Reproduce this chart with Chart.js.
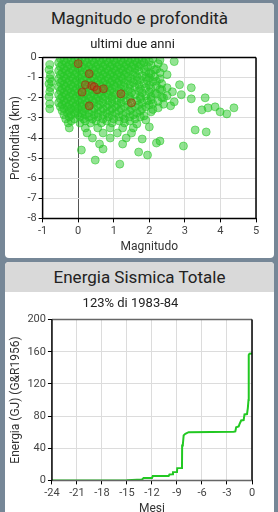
<!DOCTYPE html>
<html><head><meta charset="utf-8">
<script src="https://cdn.jsdelivr.net/npm/chart.js@4"></script>
<style>
html,body{margin:0;padding:0;background:#768797;width:278px;height:512px;overflow:hidden;font-family:Roboto,sans-serif;}
.card{position:absolute;left:5px;width:269px;background:#fff;border-radius:4px;overflow:hidden;}
.hdr{height:30px;line-height:30px;background:#d9d9d9;text-align:center;font-size:17px;color:#222;}
.box{position:relative;width:269px;}
</style></head>
<body>
<div class="card" style="top:3px;height:255px"><div class="hdr">Magnitudo e profondità</div><div class="box" style="height:223px"><canvas id="c1"></canvas></div></div>
<div class="card" style="top:262px;height:270px"><div class="hdr">Energia Sismica Totale</div><div class="box" style="height:224px"><canvas id="c2"></canvas></div></div>
<script>
// ---- dati: magnitudo e profondità (ultimi due anni) ----
const eventiVerdi = [
 [-0.5,-0.05],[-0.3,-0.05],[-0.1,-0.05],[0.1,-0.05],[0.3,-0.05],[0.5,-0.05],[0.7,-0.05],[0.9,-0.05],[1.1,-0.05],[1.3,-0.05],[1.5,-0.05],[1.7,-0.05],[1.9,-0.05],[2.1,-0.05],
 [-0.4,-0.15],[-0.2,-0.15],[0.0,-0.15],[0.2,-0.15],[0.4,-0.15],[0.6,-0.15],[0.8,-0.15],[1.0,-0.15],[1.2,-0.15],[1.4,-0.15],[1.6,-0.15],[1.8,-0.15],[2.3,-0.12],
 [-0.55,-0.25],[-0.35,-0.25],[-0.15,-0.25],[0.05,-0.25],[0.25,-0.25],[0.45,-0.25],[0.65,-0.25],[0.85,-0.25],[1.05,-0.25],[1.25,-0.25],[1.45,-0.25],[1.65,-0.25],[1.85,-0.25],[2.0,-0.2],[2.25,-0.3],[2.7,-0.2],
 [-0.45,-0.35],[-0.25,-0.35],[-0.05,-0.35],[0.15,-0.35],[0.35,-0.35],[0.55,-0.35],[0.75,-0.35],[0.95,-0.35],[1.15,-0.35],[1.35,-0.35],[1.55,-0.35],[1.75,-0.35],[2.05,-0.38],
 [-0.5,-0.45],[-0.3,-0.45],[-0.1,-0.45],[0.1,-0.45],[0.3,-0.45],[0.5,-0.45],[0.7,-0.45],[0.9,-0.45],[1.1,-0.45],[1.3,-0.45],[1.5,-0.45],[1.7,-0.45],[1.95,-0.45],[2.4,-0.5],
 [-0.4,-0.55],[-0.2,-0.55],[0.0,-0.55],[0.2,-0.55],[0.4,-0.55],[0.6,-0.55],[0.8,-0.55],[1.0,-0.55],[1.2,-0.55],[1.4,-0.55],[1.6,-0.55],[1.85,-0.55],[2.2,-0.58],
 [-0.55,-0.65],[-0.35,-0.65],[-0.15,-0.65],[0.05,-0.65],[0.25,-0.65],[0.45,-0.65],[0.65,-0.65],[0.85,-0.65],[1.05,-0.65],[1.25,-0.65],[1.45,-0.65],[1.7,-0.65],[1.9,-0.7],[2.15,-0.6],
 [-0.45,-0.75],[-0.25,-0.75],[-0.05,-0.75],[0.15,-0.75],[0.35,-0.75],[0.55,-0.75],[0.75,-0.75],[0.95,-0.75],[1.15,-0.75],[1.35,-0.75],[1.6,-0.75],[2.0,-0.78],[2.3,-0.75],
 [-0.5,-0.85],[-0.3,-0.85],[-0.1,-0.85],[0.1,-0.85],[0.3,-0.85],[0.5,-0.85],[0.7,-0.85],[0.9,-0.85],[1.1,-0.85],[1.3,-0.85],[1.55,-0.85],[1.8,-0.9],[2.05,-0.8],[2.5,-0.85],
 [-0.4,-0.95],[-0.2,-0.95],[0.0,-0.95],[0.2,-0.95],[0.4,-0.95],[0.6,-0.95],[0.8,-0.95],[1.0,-0.95],[1.2,-0.95],[1.4,-0.95],[1.65,-0.95],[1.9,-0.98],[2.15,-0.95],
 [-0.55,-1.05],[-0.35,-1.05],[-0.15,-1.05],[0.05,-1.05],[0.25,-1.05],[0.45,-1.05],[0.65,-1.05],[0.85,-1.05],[1.05,-1.05],[1.25,-1.05],[1.5,-1.05],[1.75,-1.1],[2.0,-1.0],[2.3,-1.05],
 [-0.45,-1.15],[-0.25,-1.15],[-0.05,-1.15],[0.15,-1.15],[0.35,-1.15],[0.55,-1.15],[0.75,-1.15],[0.95,-1.15],[1.15,-1.15],[1.4,-1.15],[1.65,-1.15],[1.95,-1.15],[2.2,-1.18],
 [-0.5,-1.25],[-0.3,-1.25],[-0.1,-1.25],[0.1,-1.25],[0.3,-1.25],[0.5,-1.25],[0.7,-1.25],[0.9,-1.25],[1.1,-1.25],[1.3,-1.25],[1.55,-1.25],[1.85,-1.3],[2.1,-1.2],[2.85,-1.35],
 [-0.4,-1.35],[-0.2,-1.35],[0.0,-1.35],[0.2,-1.35],[0.4,-1.35],[0.6,-1.35],[0.8,-1.35],[1.0,-1.35],[1.2,-1.35],[1.45,-1.35],[1.7,-1.35],[2.0,-1.38],[2.35,-1.3],
 [-0.55,-1.45],[-0.35,-1.45],[-0.15,-1.45],[0.05,-1.45],[0.25,-1.45],[0.45,-1.45],[0.65,-1.45],[0.85,-1.45],[1.05,-1.45],[1.3,-1.45],[1.6,-1.45],[1.9,-1.5],[2.2,-1.4],[2.5,-1.5],[3.18,-1.5],
 [-0.45,-1.55],[-0.25,-1.55],[-0.05,-1.55],[0.15,-1.55],[0.35,-1.55],[0.55,-1.55],[0.75,-1.55],[0.95,-1.55],[1.2,-1.55],[1.45,-1.55],[1.75,-1.55],[2.05,-1.55],[2.3,-1.58],
 [-0.5,-1.65],[-0.3,-1.65],[-0.1,-1.65],[0.1,-1.65],[0.3,-1.65],[0.5,-1.65],[0.7,-1.65],[0.9,-1.65],[1.15,-1.65],[1.4,-1.65],[1.7,-1.65],[2.0,-1.7],[2.35,-1.6],[2.65,-1.7],
 [-0.4,-1.75],[-0.2,-1.75],[0.0,-1.75],[0.2,-1.75],[0.4,-1.75],[0.6,-1.75],[0.8,-1.75],[1.0,-1.75],[1.25,-1.75],[1.5,-1.75],[1.8,-1.75],[2.15,-1.78],
 [-0.55,-1.85],[-0.35,-1.85],[-0.15,-1.85],[0.05,-1.85],[0.25,-1.85],[0.45,-1.85],[0.65,-1.85],[0.85,-1.85],[1.05,-1.85],[1.3,-1.85],[1.6,-1.85],[1.9,-1.9],[2.2,-1.8],[2.5,-1.9],[2.9,-1.85],
 [-0.45,-1.95],[-0.25,-1.95],[-0.05,-1.95],[0.15,-1.95],[0.35,-1.95],[0.55,-1.95],[0.75,-1.95],[0.95,-1.95],[1.2,-1.95],[1.45,-1.95],[1.75,-1.95],[2.05,-1.95],[2.35,-1.98],
 [-0.5,-2.05],[-0.3,-2.05],[-0.1,-2.05],[0.1,-2.05],[0.3,-2.05],[0.5,-2.05],[0.7,-2.05],[0.95,-2.05],[1.2,-2.05],[1.45,-2.05],[1.75,-2.05],[2.05,-2.1],[2.4,-2.0],[3.18,-2.05],[3.57,-2.0],
 [-0.4,-2.15],[-0.2,-2.15],[0.0,-2.15],[0.2,-2.15],[0.4,-2.15],[0.6,-2.15],[0.85,-2.15],[1.1,-2.15],[1.35,-2.15],[1.65,-2.15],[1.95,-2.15],[2.25,-2.18],
 [-0.55,-2.25],[-0.35,-2.25],[-0.15,-2.25],[0.05,-2.25],[0.25,-2.25],[0.45,-2.25],[0.7,-2.25],[0.95,-2.25],[1.2,-2.25],[1.5,-2.25],[1.8,-2.25],[2.1,-2.3],[2.7,-2.2],
 [-0.45,-2.35],[-0.25,-2.35],[-0.05,-2.35],[0.15,-2.35],[0.35,-2.35],[0.6,-2.35],[0.85,-2.35],[1.1,-2.35],[1.4,-2.35],[1.7,-2.35],[2.0,-2.35],[2.4,-2.32],
 [-0.5,-2.45],[-0.3,-2.45],[-0.1,-2.45],[0.1,-2.45],[0.3,-2.45],[0.55,-2.45],[0.8,-2.45],[1.05,-2.45],[1.3,-2.45],[1.6,-2.45],[1.9,-2.45],[2.25,-2.5],[2.6,-2.4],[3.65,-2.5],[3.85,-2.45],
 [-0.4,-2.55],[-0.2,-2.55],[0.0,-2.55],[0.2,-2.55],[0.45,-2.55],[0.7,-2.55],[0.95,-2.55],[1.2,-2.55],[1.5,-2.55],[1.8,-2.55],[2.1,-2.58],
 [-0.45,-2.65],[-0.25,-2.65],[-0.05,-2.65],[0.15,-2.65],[0.4,-2.65],[0.65,-2.65],[0.9,-2.65],[1.15,-2.65],[1.45,-2.65],[1.75,-2.65],[2.05,-2.7],[3.48,-2.6],[3.99,-2.7],[4.38,-2.5],
 [-0.3,-2.75],[-0.1,-2.75],[0.1,-2.75],[0.3,-2.75],[0.55,-2.75],[0.8,-2.75],[1.05,-2.75],[1.35,-2.75],[1.65,-2.75],
 [-0.4,-2.85],[-0.2,-2.85],[0.0,-2.85],[0.2,-2.85],[0.45,-2.85],[0.7,-2.85],[0.95,-2.85],[1.25,-2.85],[1.55,-2.85],[1.85,-2.9],[4.18,-2.8],
 [-0.25,-2.95],[0.05,-2.95],[0.3,-2.95],[0.55,-2.95],[0.85,-2.95],[1.15,-2.95],[1.45,-2.95],[1.75,-2.95],
 [-0.35,-3.05],[-0.1,-3.05],[0.15,-3.05],[0.4,-3.05],[0.7,-3.05],[1.0,-3.05],[1.3,-3.05],[1.6,-3.05],[1.9,-3.1],
 [-0.2,-3.15],[0.2,-3.15],[0.5,-3.15],[0.8,-3.15],[1.15,-3.15],[1.45,-3.15],
 [-0.28,-3.25],[0.05,-3.25],[0.35,-3.25],[0.65,-3.25],[0.95,-3.25],[1.3,-3.25],[1.65,-3.3],
 [-0.25,-3.5],[0.2,-3.5],[0.55,-3.5],[0.9,-3.5],[1.25,-3.5],[1.55,-3.5],[2.0,-3.45],
 [0.25,-3.75],[0.7,-3.75],[1.1,-3.75],[1.5,-3.75],[3.29,-3.6],[3.6,-3.7],
 [0.4,-4.0],[0.9,-4.0],[1.35,-4.0],[1.8,-4.05],
 [0.6,-4.3],[1.25,-4.3],[2.2,-4.25],
 [0.09,-4.6],[0.48,-5.1],[0.7,-4.55],[1.17,-5.3],[1.7,-4.7],[1.95,-4.85],[2.96,-4.4],[2.3,-4.15],
 [-0.8,-0.35],[-0.82,-0.6],[-0.78,-0.85],[-0.8,-1.05],[-0.75,-1.2],[-0.82,-1.3],[-0.78,-1.5],[-0.8,-1.7],[-0.82,-1.95],[-0.8,-2.3],[-0.8,-2.55]
];
const eventiRossi = [
 [0.0,-0.3],[0.31,-0.8],[0.2,-1.35],[0.38,-1.4],[0.45,-1.45],[0.53,-1.6],[0.11,-1.72],[0.31,-2.4],[0.71,-1.55],[1.2,-1.8],[1.5,-2.25]
];
const ticksMagnitudo = [-1,0,1,2,3,4,5];
const ticksProfondita = [0,-1,-2,-3,-4,-5,-6,-7,-8];

// ---- dati: energia sismica cumulata (mesi, GJ) ----
const mesi =    [-24,-15,-13.2,-13.0,-12.0,-11.9,-10.0,-9.9,-9.5,-9.48,-9.0,-8.97,-8.4,-8.38,-8.3,-8.2,-8.0,-7.6,-2.2,-2.0,-1.9,-1.6,-1.5,-1.3,-1.0,-0.9,-0.6,-0.5,-0.42,-0.39,-0.3,0];
const energia = [0,  0.3, 1,   2.9,  3,    5.4,  5.5,  7.4, 7.5, 10.3, 10.5, 15.3,15.5, 43.5, 44,  56,  58,  60,  60.5,61,  66,  67,  70,  74.5,75,  82,  82.5,90,   100, 156,  157.5,158];
const ticksMesi = [-24,-21,-18,-15,-12,-9,-6,-3,0];

const cornice = {
  id:'cornice',
  afterDatasetsDraw(chart, args, o){
    const a = chart.chartArea, c = chart.ctx;
    c.save(); c.lineWidth = o.width || 1.5;
    const seg=(x1,y1,x2,y2,col)=>{c.strokeStyle=col;c.beginPath();c.moveTo(x1,y1);c.lineTo(x2,y2);c.stroke();};
    seg(a.left,a.top,a.right,a.top,o.top);
    seg(a.right,a.top,a.right,a.bottom,o.right);
    seg(a.left,a.bottom,a.right,a.bottom,o.bottom);
    seg(a.left,a.top,a.left,a.bottom,o.left);
    c.restore();
  }
};

const tickFont = {family:'Roboto', size:11};
const titleFont = {family:'Roboto', size:12};

new Chart(document.getElementById('c1'), {
  type:'scatter',
  data:{datasets:[
    {data:eventiRossi.map(p=>({x:p[0],y:p[1]})), backgroundColor:'rgba(230,20,20,0.35)', borderColor:'rgba(170,30,10,0.55)', borderWidth:1, pointRadius:4},
    {data:eventiVerdi.map(p=>({x:p[0],y:p[1]})), backgroundColor:'rgba(40,200,40,0.5)', borderColor:'rgba(40,200,40,0.55)', borderWidth:1, pointRadius:4}
  ]},
  plugins:[cornice],
  options:{
    responsive:true, maintainAspectRatio:false, animation:false,
    layout:{padding:{left:4,right:18,top:0,bottom:2}},
    plugins:{legend:{display:false}, tooltip:{enabled:false},
      title:{display:true, text:'ultimi due anni', color:'#222', font:{family:'Roboto',size:13,weight:'normal'}, padding:{top:4,bottom:5}},
      cornice:{top:'#000',right:'#000',bottom:'#000',left:'#000',width:1.5}},
    scales:{
      x:{type:'linear', min:-1, max:5,
        afterBuildTicks(ax){ax.ticks = ticksMagnitudo.map(v=>({value:v}));},
        ticks:{color:'#444', font:tickFont, padding:2},
        grid:{color:c=>c.tick && c.tick.value===0 ? '#555' : '#dcdcdc', tickLength:4, tickColor:'#000'},
        border:{display:false},
        title:{display:true, text:'Magnitudo', color:'#333', font:titleFont, padding:{top:0,bottom:0}}},
      y:{type:'linear', min:-8, max:0,
        afterBuildTicks(ax){ax.ticks = ticksProfondita.map(v=>({value:v}));},
        ticks:{color:'#444', font:tickFont, padding:2},
        grid:{color:'#dcdcdc', tickLength:4, tickColor:'#000'},
        border:{display:false},
        title:{display:true, text:'Profondità (km)', color:'#333', font:titleFont, padding:{top:0,bottom:2}}}
    }
  }
});

new Chart(document.getElementById('c2'), {
  type:'line',
  data:{datasets:[
    {data:mesi.map((m,i)=>({x:m,y:energia[i]})), borderColor:'#22c822', borderWidth:2, pointRadius:0, fill:false, tension:0}
  ]},
  plugins:[cornice],
  options:{
    responsive:true, maintainAspectRatio:false, animation:false,
    layout:{padding:{left:4,right:22,top:0,bottom:0}},
    plugins:{legend:{display:false}, tooltip:{enabled:false},
      title:{display:true, text:'123% di 1983-84', color:'#222', font:{family:'Roboto',size:13,weight:'normal'}, padding:{top:4,bottom:8}},
      cornice:{top:'#666',right:'#000',bottom:'#666',left:'#000',width:1.5}},
    scales:{
      x:{type:'linear', min:-24, max:0,
        afterBuildTicks(ax){ax.ticks = ticksMesi.map(v=>({value:v}));},
        ticks:{color:'#444', font:tickFont, padding:2},
        grid:{color:'#dcdcdc', tickLength:4, tickColor:'#000'},
        border:{display:false},
        title:{display:true, text:'Mesi', color:'#333', font:titleFont, padding:{top:0,bottom:0}}},
      y:{type:'linear', min:0, max:200,
        ticks:{stepSize:20, color:'#444', font:tickFont, padding:2},
        grid:{color:'#dcdcdc', tickLength:4, tickColor:'#000'},
        border:{display:false},
        title:{display:true, text:'Energia (GJ) (G&R1956)', color:'#333', font:titleFont, padding:{top:0,bottom:2}}}
    }
  }
});
</script>
</body></html>
